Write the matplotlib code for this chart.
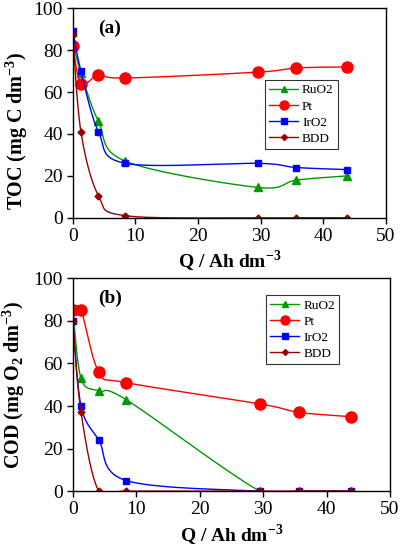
import numpy as np
import matplotlib
matplotlib.use("Agg")
import matplotlib.pyplot as plt

plt.rcParams["font.family"] = ["Liberation Serif", "DejaVu Serif"]
plt.rcParams["mathtext.fontset"] = "custom"
plt.rcParams["mathtext.rm"] = "Liberation Serif"
plt.rcParams["mathtext.bf"] = "Liberation Serif:bold"

# charge passed (Q / Ah dm-3)
q = [0, 1.3, 4.1, 8.4, 29.5, 35.7, 43.8]

# TOC (mg C dm-3)
toc_ruo2 = [84, 69, 46, 27, 14.5, 18, 20]
toc_pt = [82, 64, 68, 66.7, 69.5, 71.5, 72]
toc_iro2 = [89, 70, 41, 26, 26, 24, 23]
toc_bdd = [87, 41, 10.5, 1, 0, 0, 0]

# COD (mg O2 dm-3)
cod_ruo2 = [85, 53, 47, 43, 0, 0, 0]
cod_pt = [85, 85, 56, 51, 41, 37, 35]
cod_iro2 = [80, 40, 24, 5, 0, 0, 0]
cod_bdd = [80, 37, 0, 0, 0, 0, 0]

labels = ["RuO2", "Pt", "IrO2", "BDD"]


def smooth(x, y, n=30):
    # excel-like smoothed line (bezier through points)
    x = np.asarray(x, float)
    y = np.asarray(y, float)
    xs, ys = [], []
    for i in range(len(x) - 1):
        p0 = np.array([x[max(i - 1, 0)], y[max(i - 1, 0)]])
        p1 = np.array([x[i], y[i]])
        p2 = np.array([x[i + 1], y[i + 1]])
        p3 = np.array([x[min(i + 2, len(x) - 1)], y[min(i + 2, len(x) - 1)]])
        c1 = p1 + (p2 - p0) / 6
        c2 = p2 - (p3 - p1) / 6
        t = np.linspace(0, 1, n)[:, None]
        b = ((1 - t) ** 3) * p1 + 3 * ((1 - t) ** 2) * t * c1 + 3 * (1 - t) * t ** 2 * c2 + t ** 3 * p2
        xs.extend(b[:, 0])
        ys.extend(b[:, 1])
    return np.array(xs), np.array(ys)


styles = [
    dict(color="#009900", marker="^", ms=6, lms=5),
    dict(color="#ff0000", marker="o", ms=8, lms=6.5),
    dict(color="#0000ff", marker="s", ms=5, lms=4.5),
    dict(color="#990000", marker="D", ms=3.5, lms=3),
]

fig = plt.figure(figsize=(4, 5.5), dpi=100)
ax1 = fig.add_axes([0.182, 0.604, 0.783, 0.381])
ax2 = fig.add_axes([0.182, 0.107, 0.793, 0.387])


def draw(ax, series, ylabel, ylab_pos, tag, leg_box):
    for lab, ys, st in zip(labels, series, styles):
        sx, sy = smooth(q, ys)
        ax.plot(sx, sy, color=st["color"], lw=1)
        ax.plot(q, ys, ls="none", marker=st["marker"], ms=st["ms"],
                color=st["color"], mec=st["color"])
        ax.plot([], [], color=st["color"], lw=1, marker=st["marker"],
                ms=st["lms"], label=lab)
    ax.set_xlim(0, 50)
    ax.set_ylim(0, 100)
    ax.set_xticks(range(0, 51, 10))
    ax.set_yticks(range(0, 101, 20))
    ax.tick_params(labelsize=14, length=4, width=1, direction="out", pad=3)
    for s in ax.spines.values():
        s.set_linewidth(1)
    ax.set_xlabel(r"Q / Ah dm$^{\mathbf{-3}}$", fontsize=14, fontweight="bold", labelpad=3)
    ax.set_ylabel(ylabel, fontsize=14.5, fontweight="bold")
    ax.yaxis.set_label_coords(*ylab_pos)
    ax.text(0.08, 0.905, tag, transform=ax.transAxes, fontsize=14,
            fontweight="bold", va="center")
    leg = ax.legend(loc="upper left", bbox_to_anchor=leg_box, fontsize=9.5,
                    frameon=True, fancybox=False, edgecolor="black",
                    handlelength=2.2, borderpad=0.3, labelspacing=0.3,
                    handletextpad=0.3, borderaxespad=0)
    leg.get_frame().set_linewidth(0.8)


draw(ax1, [toc_ruo2, toc_pt, toc_iro2, toc_bdd],
     r"TOC (mg C dm$^{\mathbf{-3}}$)", (-0.138, 0.414), "(a)", (0.614, 0.657))
draw(ax2, [cod_ruo2, cod_pt, cod_iro2, cod_bdd],
     r"COD (mg O$_{\mathbf{2}}$ dm$^{\mathbf{-3}}$)", (-0.143, 0.5), "(b)", (0.61, 0.92))

fig.savefig("out.png", dpi=100)
